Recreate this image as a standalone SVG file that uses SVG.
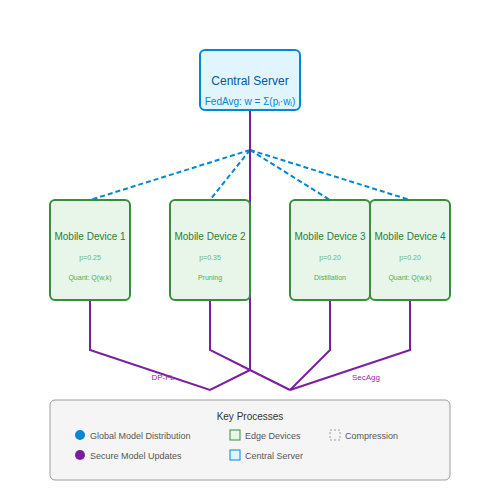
<svg xmlns="http://www.w3.org/2000/svg" width="500" height="500" viewBox="0 0 500 500">
<style>
text{font-family:"Liberation Sans",Arial,sans-serif;text-anchor:middle}
.dev rect{fill:#e8f5e9;stroke:#388e3c;stroke-width:2}
.dt{font-size:10px;fill:#2e7d32}
.dp{font-size:7px;fill:#66bb6a}
.dm{font-size:7px;fill:#4caf50}
.dist{stroke:#0288d1;stroke-width:2;stroke-dasharray:5,3;fill:none}
.upd{stroke:#7b1fa2;stroke-width:2;fill:none}
.lab{font-size:8px;fill:#9c27b0}
.lg{font-size:9px;fill:#555;text-anchor:start}
</style>
<rect width="500" height="500" fill="#fff"/>
<g id="connectors">
<line class="dist" x1="250" y1="150" x2="90" y2="200"/>
<line class="dist" x1="250" y1="150" x2="210" y2="200"/>
<line class="dist" x1="250" y1="150" x2="330" y2="200"/>
<line class="dist" x1="250" y1="150" x2="410" y2="200"/>
<line class="upd" x1="250" y1="110" x2="250" y2="370"/>
<polyline class="upd" points="90,300 90,350 210,390 250,370"/>
<polyline class="upd" points="210,300 210,350 250,370 290,390"/>
<polyline class="upd" points="330,300 330,350 290,390"/>
<polyline class="upd" points="410,300 410,350 290,390"/>
<text class="lab" x="163" y="380">DP-FL</text>
<text class="lab" x="366" y="380">SecAgg</text>
</g>
<g id="server">
<rect x="200" y="50" width="100" height="60" rx="5" fill="#e1f5fe" stroke="#0288d1" stroke-width="2"/>
<text x="250" y="85" font-size="12" fill="#01579b">Central Server</text>
<text x="250" y="105" font-size="10" fill="#0288d1">FedAvg: w = Σ(pᵢ·wᵢ)</text>
</g>
<g id="device1" class="dev">
<rect x="50" y="200" width="80" height="100" rx="5"/>
<text class="dt" x="90" y="240">Mobile Device 1</text>
<text class="dp" x="90" y="260">p=0.25</text>
<text class="dm" x="90" y="280">Quant: Q(w,k)</text>
</g>
<g id="device2" class="dev">
<rect x="170" y="200" width="80" height="100" rx="5"/>
<text class="dt" x="210" y="240">Mobile Device 2</text>
<text class="dp" x="210" y="260">p=0.35</text>
<text class="dm" x="210" y="280">Pruning</text>
</g>
<g id="device3" class="dev">
<rect x="290" y="200" width="80" height="100" rx="5"/>
<text class="dt" x="330" y="240">Mobile Device 3</text>
<text class="dp" x="330" y="260">p=0.20</text>
<text class="dm" x="330" y="280">Distillation</text>
</g>
<g id="device4" class="dev">
<rect x="370" y="200" width="80" height="100" rx="5"/>
<text class="dt" x="410" y="240">Mobile Device 4</text>
<text class="dp" x="410" y="260">p=0.20</text>
<text class="dm" x="410" y="280">Quant: Q(w,k)</text>
</g>
<g id="legend">
<rect x="50" y="400" width="400" height="80" rx="5" fill="#f5f5f5" stroke="#9e9e9e" stroke-width="1"/>
<text x="250" y="420" font-size="10" fill="#333">Key Processes</text>
<circle cx="80" cy="435" r="5" fill="#0288d1"/>
<text class="lg" x="90" y="439">Global Model Distribution</text>
<circle cx="80" cy="455" r="5" fill="#7b1fa2"/>
<text class="lg" x="90" y="459">Secure Model Updates</text>
<rect x="230" y="430" width="10" height="10" fill="#e8f5e9" stroke="#388e3c"/>
<text class="lg" x="245" y="439">Edge Devices</text>
<rect x="230" y="450" width="10" height="10" fill="#e1f5fe" stroke="#0288d1"/>
<text class="lg" x="245" y="459">Central Server</text>
<rect x="330" y="430" width="10" height="10" fill="none" stroke="#9e9e9e" stroke-dasharray="2,2"/>
<text class="lg" x="345" y="439">Compression</text>
</g>
</svg>
